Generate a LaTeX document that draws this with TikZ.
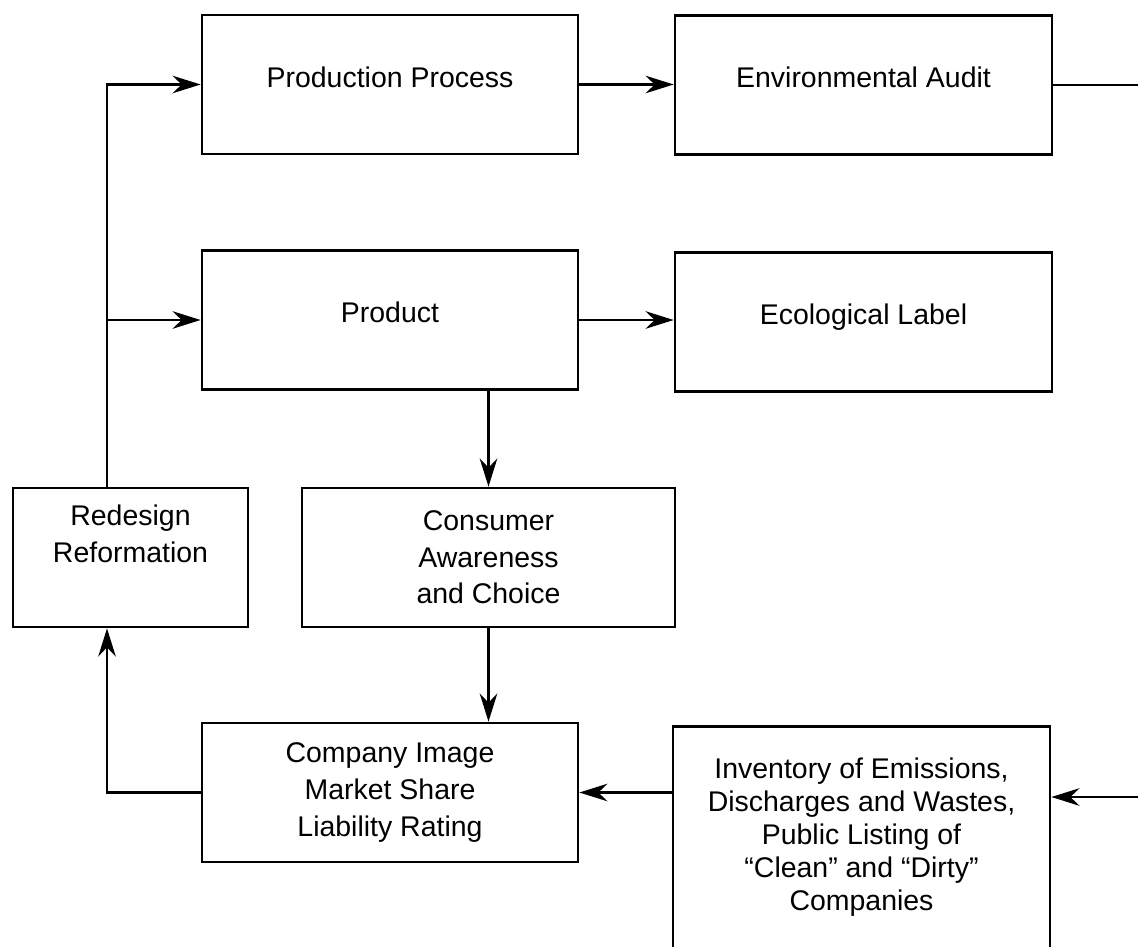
\documentclass[tikz,border=0pt]{standalone}
\usepackage{fontspec}
\setmainfont{Liberation Sans}
\usetikzlibrary{positioning, arrows.meta}

\begin{document}
\begin{tikzpicture}[
    x=0.02cm, y=-0.02cm,
    >={Stealth[length=16pt, width=10pt]},
    every node/.style={draw, line width=1.6pt, align=center, inner sep=0pt, minimum height=2.78cm, font=\fontsize{16.2}{20.8}\selectfont},
    oneline/.style={text height=12pt, text depth=9pt},
    link/.style={->, line width=1.3pt}
]
\useasboundingbox (0,0) rectangle (1138,946);

% Top row
\node[oneline, minimum width=7.52cm] (process) at (390, 84.5) {Production Process};
\node[oneline, minimum width=7.54cm] (audit) at (863.5, 85) {Environmental Audit};

% Second row
\node[oneline, minimum width=7.52cm] (product) at (390, 320) {Product};
\node[oneline, minimum width=7.54cm] (label) at (863.5, 322) {Ecological Label};

% Middle row
\node[minimum width=4.7cm] (redesign) at (130.5, 557.5) {Redesign\\Reformation\\\strut};
\node[minimum width=7.46cm] (consumer) at (488.5, 557.5) {Consumer\\Awareness\\and Choice};

% Bottom row
\node[minimum width=7.52cm] (image) at (390, 792.5) {Company Image\\Market Share\\Liability Rating};
\node[minimum width=7.54cm, minimum height=0pt, anchor=north, inner ysep=0.62cm,
      font=\fontsize{16.2}{18.8}\selectfont] (inventory) at (861.5, 725)
  {Inventory of Emissions,\\Discharges and Wastes,\\Public Listing of\\“Clean” and “Dirty”\\Companies\rule[-4cm]{0pt}{0pt}};

% Loop on the left and the right edge
\coordinate (loopx) at (107, 0);
\coordinate (rim) at (1138, 797);

% Feedback to the process and the product
\draw[link] (redesign.north -| loopx) |- (process.west);
\draw[link] (loopx |- product.west) -- (product.west);
\draw[link] (image.west) -| (redesign.south -| loopx);

% Arrows to the right
\draw[link] (process.east) -- (process.east -| audit.west);
\draw[link] (product.east) -- (product.east -| label.west);
\draw[line width=1.3pt] (audit.east) -- (audit.east -| rim);

% Arrows down
\draw[link] (consumer.north |- product.south) -- (consumer.north);
\draw[link] (consumer.south) -- (consumer.south |- image.north);

% Arrows back from the right
\draw[link] (rim) -- (rim -| inventory.east);
\draw[link] (inventory.west |- image.east) -- (image.east);

\end{tikzpicture}
\end{document}
